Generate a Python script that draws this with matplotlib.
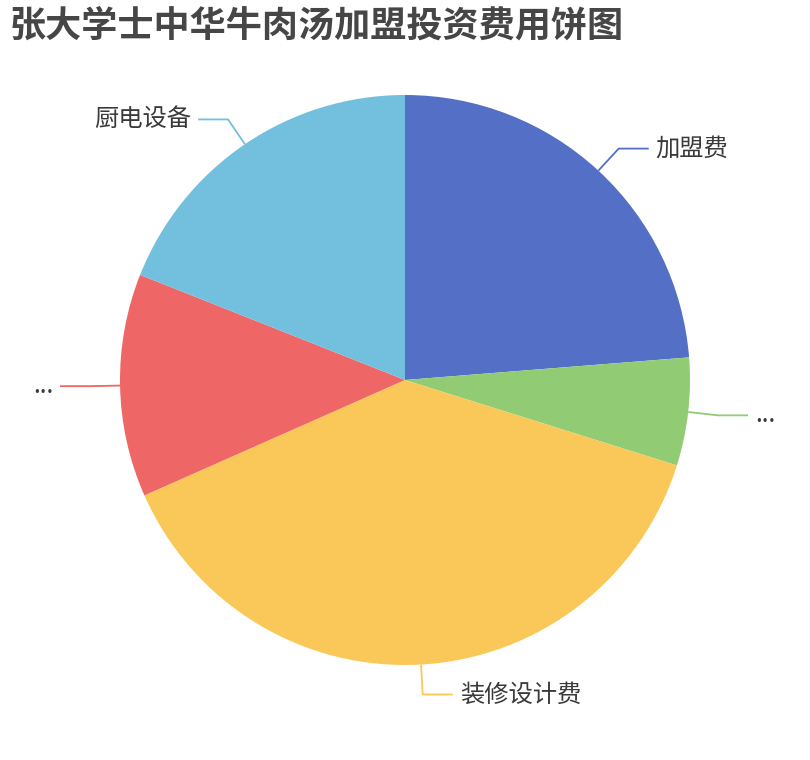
import numpy as np
import matplotlib
matplotlib.use("Agg")
import matplotlib.pyplot as plt

plt.rcParams["font.family"] = ["Noto Sans CJK SC", "DejaVu Sans"]

# investment split (wan yuan)
categories = ["加盟费", "其他费用", "装修设计费", "人员费用", "厨电设备"]
shown_labels = ["加盟费", "...", "装修设计费", "...", "厨电设备"]
values = [6.1, 1.57, 9.9, 3.25, 4.88]
colors = ["#5470c6", "#91cc75", "#fac858", "#ee6666", "#73c0de"]
title = "张大学士中华牛肉汤加盟投资费用饼图"

W, H = 810, 760
fig = plt.figure(figsize=(W / 100, H / 100), dpi=100)
ax = fig.add_axes([0, 0, 1, 1])

cx, cy, r = 405, H - 380, 285
ax.pie(values, colors=colors, startangle=90, counterclock=False,
       center=(cx, cy), radius=r, frame=True,
       wedgeprops=dict(linewidth=0))
ax.set_xlim(0, W)
ax.set_ylim(0, H)
ax.set_aspect("equal")
ax.axis("off")

# leader lines in echarts style: radial segment then horizontal segment
total = sum(values)
start = 0.0
for lab, v, c in zip(shown_labels, values, colors):
    mid = np.radians((start + v / 2) / total * 360)
    start += v
    sx, sy = np.sin(mid), np.cos(mid)
    x0, y0 = cx + r * sx, cy + r * sy
    x1, y1 = cx + (r + 30) * sx, cy + (r + 30) * sy
    d = 1 if sx >= 0 else -1
    x2 = x1 + d * 30
    ax.plot([x0, x1, x2], [y0, y1, y1], color=c, lw=1.3, solid_capstyle="butt")
    ax.text(x2 + d * 7, y1, lab, ha="left" if d > 0 else "right", va="center",
            fontsize=17.5, color="#3a3a3a")

fig.text(10 / W, 1 - 26 / H, title, fontsize=26, fontweight="bold",
         color="#464646", ha="left", va="center")

fig.savefig("out.png", dpi=100)
